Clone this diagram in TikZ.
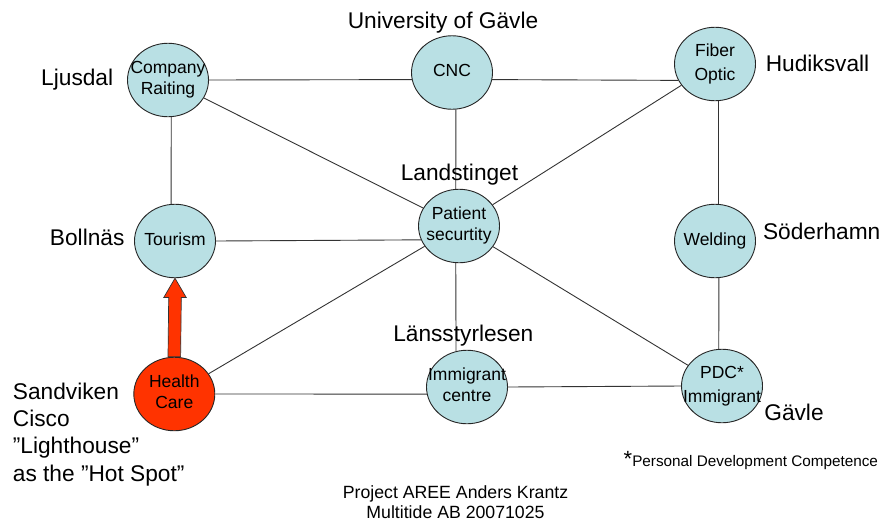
\documentclass[tikz,border=0pt]{standalone}
\usepackage{fontspec}
\setmainfont{Liberation Sans}
\usetikzlibrary{shapes.geometric,calc}
\definecolor{nodefill}{RGB}{185,224,228}
\definecolor{hotfill}{RGB}{255,51,0}
\newcommand{\inell}[1]{\makebox[0pt]{\begin{tabular}{@{}c@{}}#1\end{tabular}}}
\newcommand{\mylines}[2][l]{\begin{tabular}[t]{@{}#1@{}}#2\end{tabular}}
\tikzset{
  ell/.style={ellipse, draw=black!85, line width=0.9pt, fill=nodefill,
    minimum width=81pt, minimum height=73.5pt, inner sep=0pt,
    font=\fontsize{17.5}{21}\selectfont},
  hot/.style={ell, fill=hotfill},
  place/.style={font=\fontsize{22.7}{27.3}\selectfont, inner sep=0pt,
    text height=16.3pt, text depth=0pt, anchor=center},
  multi/.style={font=\fontsize{22.7}{27.3}\selectfont, inner sep=0pt, anchor=base west},
  footer/.style={font=\fontsize{17.7}{20}\selectfont, inner sep=0pt, anchor=base},
  link/.style={draw=black!80, line width=0.9pt},
  bigarrow/.style={fill=hotfill, draw=black!80, line width=0.7pt, line join=miter}
}
\begin{document}
\begin{tikzpicture}[x=1pt,y=-1pt]
\useasboundingbox (0,0) rectangle (883,523);

% circles
\node[ell] (cr)   at (168,80)    {\inell{Company\\Raiting}};
\node[ell] (cnc)  at (452,72.5)  {\inell{CNC}};
\node[ell] (fo)   at (715,64)    {\inell{Fiber\\[3pt]Optic}};
\node[ell] (tour) at (175,241)   {\inell{Tourism}};
\node[ell] (pat)  at (459,226)   {\inell{Patient\\securtity}};
\node[ell] (weld) at (715,241)   {\inell{Welding}};
\node[hot] (hc)   at (174.3,394) {\inell{Health\\Care}};
\node[ell] (imm)  at (467,387)   {\inell{Immigrant\\centre}};
\node[ell] (pdc)  at (722,386)   {\inell{PDC*\\[3pt]Immigrant}};

% connectors
\draw[link] (cr.east) -- (cnc.190);
\draw[link] (cnc.350) -- (fo.204);
\draw[link] (cr.275) -- (tour.96);
\draw[link] (cr) -- (pat);
\draw[link] (cnc.276) -- (pat.95);
\draw[link] (fo) -- (pat);
\draw[link] (fo.276) -- (weld.84);
\draw[link] (tour.east) -- (pat.200);
\draw[link] (weld.276) -- (pdc.95);
\draw[link] (pat) -- (hc);
\draw[link] (pat.265) -- (imm.107);
\draw[link] (pat) -- (pdc);
\draw[link] (hc.east) -- (imm.190);
\draw[link] (imm.east) -- (pdc.west);

% big arrow from Health Care to Tourism
\coordinate (atip) at (tour.south);
\coordinate (abase) at (hc.north);
\draw[bigarrow] (atip) -- ($(atip)+(11.2,19.2)$) -- ($(atip)+(6.3,19.2)$)
  -- ($(abase)+(6.3,0)$) -- ($(abase)+(-6.3,0)$) -- ($(atip)+(-6.3,19.2)$)
  -- ($(atip)+(-11.2,19.2)$) -- cycle;

% place labels
\node[place] (univ) at (443,20)     {University of Gävle};
\node[place] (ljus) at (77.2,77.7)  {Ljusdal};
\node[place] (hudi) at (817.5,63.3) {Hudiksvall};
\node[place] (land) at (459.5,172.8){Landstinget};
\node[place] (boll) at (87.2,237.5) {Bollnäs};
\node[place] (sode) at (821.7,231.7){Söderhamn};
\node[place] (lans) at (463.3,333.8){Länsstyrlesen};
\node[place] (gavl) at (794,412.3)  {Gävle};
\node[multi] (sand) at (12.7,399.3) {\mylines{Sandviken\\Cisco\\”Lighthouse”\\as the ”Hot Spot”}};

% footnote and footer
\node[inner sep=0pt, anchor=base west] (note) at (623.5,466.7)
  {{\fontsize{22}{22}\selectfont *}{\fontsize{15.3}{18}\selectfont Personal Development Competence}};
\node[footer] (foot) at (455.5,498) {\mylines[c]{Project AREE Anders Krantz\\Multitide AB 20071025}};
\end{tikzpicture}
\end{document}
